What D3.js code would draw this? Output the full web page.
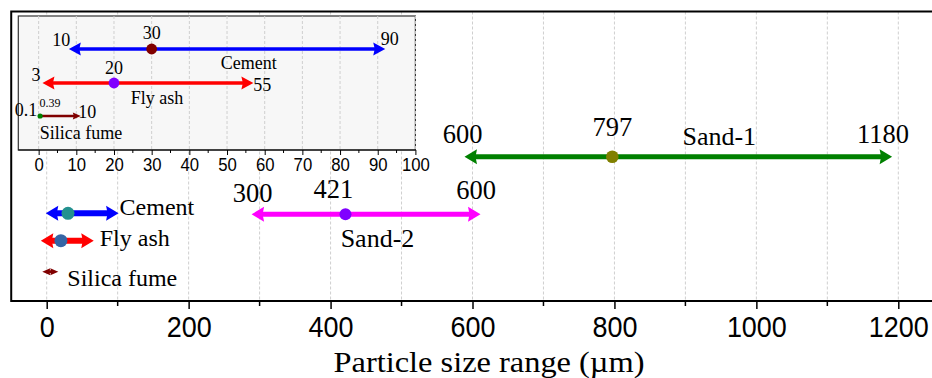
<!DOCTYPE html>
<html>
<head>
<meta charset="utf-8">
<script src="https://cdn.jsdelivr.net/npm/d3@7/dist/d3.min.js"></script>
<style>
  html, body { margin: 0; padding: 0; background: #fff; }
  svg { display: block; }
  .serif { font-family: "Liberation Serif", "Times New Roman", serif; fill: #000; }
  .narrow { font-family: "Liberation Sans Narrow", "Arial Narrow", "Liberation Sans", sans-serif; fill: #000; }
</style>
</head>
<body>
<svg id="chart" width="932" height="378"></svg>
<script>
// Particle size ranges (µm): minimum, median (dot), maximum
const materials  = ["Cement", "Fly ash", "Silica fume", "Sand-2", "Sand-1"];
const minSize    = [10, 3, 0.1, 300, 600];
const medianSize = [30, 20, 0.39, 421, 797];
const maxSize    = [90, 55, 10, 600, 1180];

// Axis ticks
const mainTicks  = [0, 200, 400, 600, 800, 1000, 1200];
const mainMinor  = [100, 300, 500, 700, 900, 1100];
const insetTicks = [0, 10, 20, 30, 40, 50, 60, 70, 80, 90, 100];
const insetMinor = [5, 15, 25, 35, 45, 55, 65, 75, 85, 95];

const axisTitle = "Particle size range (\u00b5m)";

// Colours
const lineColor  = { "Cement": "#0000ff", "Fly ash": "#ff0000", "Silica fume": "#800000", "Sand-2": "#ff00ff", "Sand-1": "#008000" };
const dotMain    = { "Cement": "#23918f", "Fly ash": "#3565a5", "Silica fume": "#800000", "Sand-2": "#8000ff", "Sand-1": "#808000" };
const dotInset   = { "Cement": "#800000", "Fly ash": "#8000ff", "Silica fume": "#008000" };

const rows = materials.map((m, i) => ({ name: m, lo: minSize[i], mid: medianSize[i], hi: maxSize[i] }));
const row = name => rows.find(r => r.name === name);

const svg = d3.select("#chart");

// ---------- main panel ----------
const frameTop = 11.5, frameBottom = 301;
const xm = d3.scaleLinear().domain([0, 1200]).range([46.7, 898.3]);

const main = svg.append("g");

// dashed vertical grid every 100 µm
main.append("g").selectAll("line")
  .data(d3.range(0, 1201, 100))
  .join("line")
  .attr("x1", d => xm(d)).attr("x2", d => xm(d))
  .attr("y1", frameTop).attr("y2", frameBottom)
  .attr("stroke", "#cfcfcf").attr("stroke-width", 1).attr("stroke-dasharray", "3,2");

// frame (right edge lies outside the view)
main.append("rect")
  .attr("x", xm(-50)).attr("y", frameTop)
  .attr("width", xm(1265) - xm(-50)).attr("height", frameBottom - frameTop)
  .attr("fill", "none").attr("stroke", "#000").attr("stroke-width", 2);

// bottom axis
const axisG = main.append("g").attr("transform", `translate(0,${frameBottom})`);
axisG.call(d3.axisBottom(xm).tickValues(mainTicks).tickSize(8).tickPadding(6).tickFormat(d3.format("d")));
axisG.select(".domain").remove();
axisG.selectAll(".tick line").attr("stroke", "#000").attr("stroke-width", 1.5);
axisG.selectAll(".tick text").attr("class", "narrow").attr("font-size", 29).attr("fill", "#000")
  .attr("dy", null).attr("y", 0).attr("transform", "translate(0,36) scale(0.93,1)");
axisG.append("g").selectAll("line").data(mainMinor).join("line")
  .attr("x1", d => xm(d)).attr("x2", d => xm(d)).attr("y1", 0).attr("y2", 5)
  .attr("stroke", "#000").attr("stroke-width", 1.5);

svg.append("text").attr("class", "serif")
  .attr("transform", "translate(489,371.5) scale(1.08,1)")
  .attr("text-anchor", "middle")
  .attr("font-size", 30).text(axisTitle);

// double-headed range arrow
function rangeArrow(g, x, lo, hi, y, color, width, head, both) {
  const x1 = x(lo), x2 = x(hi);
  g.append("line").attr("x1", x1).attr("x2", x2).attr("y1", y).attr("y2", y)
    .attr("stroke", color).attr("stroke-width", width);
  const heads = both ? [[x1, -1], [x2, 1]] : [[x2, 1]];
  heads.forEach(([xe, dir]) => {
    const tip = xe + dir * head.ext, base = tip - dir * head.len;
    g.append("path")
      .attr("d", `M${tip},${y}L${base},${y - head.half}L${base + dir * head.notch},${y}L${base},${y + head.half}Z`)
      .attr("fill", color);
  });
}
function label(g, x, y, str, size, anchor, cls) {
  return g.append("text").attr("class", cls || "serif")
    .attr("x", x).attr("y", y).attr("text-anchor", anchor || "middle")
    .attr("font-size", size).text(str);
}

const bigHead   = { ext: 8, len: 12.5, half: 7.5, notch: 1.5 };
const smallHead = { ext: 4.5, len: 8, half: 3.5, notch: 1 };

// Sand-1
{
  const r = row("Sand-1"), y = 156.7;
  rangeArrow(main, xm, r.lo, r.hi, y, lineColor[r.name], 5, bigHead, true);
  main.append("circle").attr("cx", xm(r.mid)).attr("cy", y).attr("r", 6.3).attr("fill", dotMain[r.name]);
  label(main, xm(r.lo) - 10, 143.3, r.lo, 26.5);
  label(main, xm(r.mid), 136, r.mid, 26.5);
  label(main, xm(r.mid) + 107, 145, r.name, 26);
  label(main, xm(r.hi) - 1, 142.7, r.hi, 26.5);
}
// Sand-2
{
  const r = row("Sand-2"), y = 214.3;
  rangeArrow(main, xm, r.lo, r.hi, y, lineColor[r.name], 5, bigHead, true);
  main.append("circle").attr("cx", xm(r.mid)).attr("cy", y).attr("r", 6).attr("fill", dotMain[r.name]);
  label(main, xm(r.lo) - 7, 202.3, r.lo, 26.5);
  label(main, xm(r.mid) - 12, 198.3, r.mid, 26.5);
  label(main, xm(r.hi) + 3.5, 199.3, r.hi, 26.5);
  label(main, xm(r.mid) + 32, 247.3, r.name, 26);
}
// fine powders on the main scale
{
  const c = row("Cement"), f = row("Fly ash"), s = row("Silica fume");
  rangeArrow(main, xm, c.lo, c.hi, 213.3, lineColor[c.name], 6, bigHead, true);
  main.append("circle").attr("cx", xm(c.mid)).attr("cy", 213.3).attr("r", 6.5).attr("fill", dotMain[c.name]);
  label(main, xm(c.hi) + bigHead.ext + 1, 215, c.name, 24, "start");

  rangeArrow(main, xm, f.lo, f.hi, 240.7, lineColor[f.name], 6, bigHead, true);
  main.append("circle").attr("cx", xm(f.mid)).attr("cy", 240.7).attr("r", 6.5).attr("fill", dotMain[f.name]);
  label(main, xm(f.hi) + bigHead.ext + 6, 246, f.name, 24, "start");

  rangeArrow(main, xm, s.lo, s.hi, 271.7, lineColor[s.name], 3, smallHead, true);
  label(main, xm(s.hi) + smallHead.ext + 9, 286, s.name, 24, "start");
}

// ---------- inset: 0–100 µm ----------
const xi = d3.scaleLinear().domain([-5.4, 100]).range([18.3, 415.4]);
const insetTop = 16, insetBottom = 150;
const inset = svg.append("g");

inset.append("rect")
  .attr("x", xi(-5.4)).attr("y", insetTop)
  .attr("width", xi(100) - xi(-5.4)).attr("height", insetBottom - insetTop)
  .attr("fill", "#f7f7f7").attr("stroke", "#333").attr("stroke-width", 1.2);

inset.append("g").selectAll("line").data(insetTicks).join("line")
  .attr("x1", d => xi(d)).attr("x2", d => xi(d))
  .attr("y1", insetTop).attr("y2", insetBottom)
  .attr("stroke", "#cfcfcf").attr("stroke-width", 1).attr("stroke-dasharray", "3,2");

const iAxis = inset.append("g").attr("transform", `translate(0,${insetBottom})`);
iAxis.call(d3.axisBottom(xi).tickValues(insetTicks).tickSize(5).tickPadding(4).tickFormat(d3.format("d")));
iAxis.select(".domain").remove();
iAxis.selectAll(".tick line").attr("stroke", "#000").attr("stroke-width", 1);
iAxis.selectAll(".tick text").attr("class", "narrow").attr("font-size", 19).attr("fill", "#000")
  .attr("dy", null).attr("y", 0).attr("transform", "translate(0,21) scale(0.88,1)");
iAxis.append("g").selectAll("line").data(insetMinor).join("line")
  .attr("x1", d => xi(d)).attr("x2", d => xi(d)).attr("y1", 0).attr("y2", 3)
  .attr("stroke", "#000").attr("stroke-width", 1);
inset.append("line").attr("x1", xi(-5.4)).attr("x2", xi(100))
  .attr("y1", insetBottom).attr("y2", insetBottom).attr("stroke", "#000").attr("stroke-width", 1.2);

const insetHead = { ext: 7.5, len: 12, half: 6.5, notch: 1.5 };
{
  const r = row("Cement"), y = 49;
  rangeArrow(inset, xi, r.lo, r.hi, y, lineColor[r.name], 3.5, insetHead, true);
  inset.append("circle").attr("cx", xi(r.mid)).attr("cy", y).attr("r", 5.4).attr("fill", dotInset[r.name]);
  label(inset, xi(r.lo) - 15, 46, r.lo, 18);
  label(inset, xi(r.mid), 38.5, r.mid, 18);
  label(inset, xi(r.hi) + 12, 44.5, r.hi, 18);
  label(inset, xi(r.mid) + 97, 68.5, r.name, 18);
}
{
  const r = row("Fly ash"), y = 83;
  rangeArrow(inset, xi, r.lo, r.hi, y, lineColor[r.name], 3.5, insetHead, true);
  inset.append("circle").attr("cx", xi(r.mid)).attr("cy", y).attr("r", 5.4).attr("fill", dotInset[r.name]);
  label(inset, xi(r.lo) - 14, 80.7, r.lo, 18);
  label(inset, xi(r.mid), 74, r.mid, 18);
  label(inset, xi(r.hi) + 7.5, 90.7, r.hi, 18, "start");
  label(inset, xi(r.mid) + 43, 104, r.name, 18);
}
{
  const r = row("Silica fume"), y = 116;
  rangeArrow(inset, xi, r.lo, r.hi, y, lineColor[r.name], 2.5, smallHead, false);
  inset.append("circle").attr("cx", xi(r.mid)).attr("cy", y).attr("r", 2.6).attr("fill", dotInset[r.name]);
  label(inset, xi(r.lo) - 13, 115.7, r.lo, 18);
  label(inset, xi(r.mid) + 10, 107.3, r.mid, 12);
  label(inset, xi(r.hi) + 2, 118, r.hi, 18, "start");
  label(inset, xi(r.lo) + 42, 139, r.name, 18);
}
</script>
</body>
</html>
